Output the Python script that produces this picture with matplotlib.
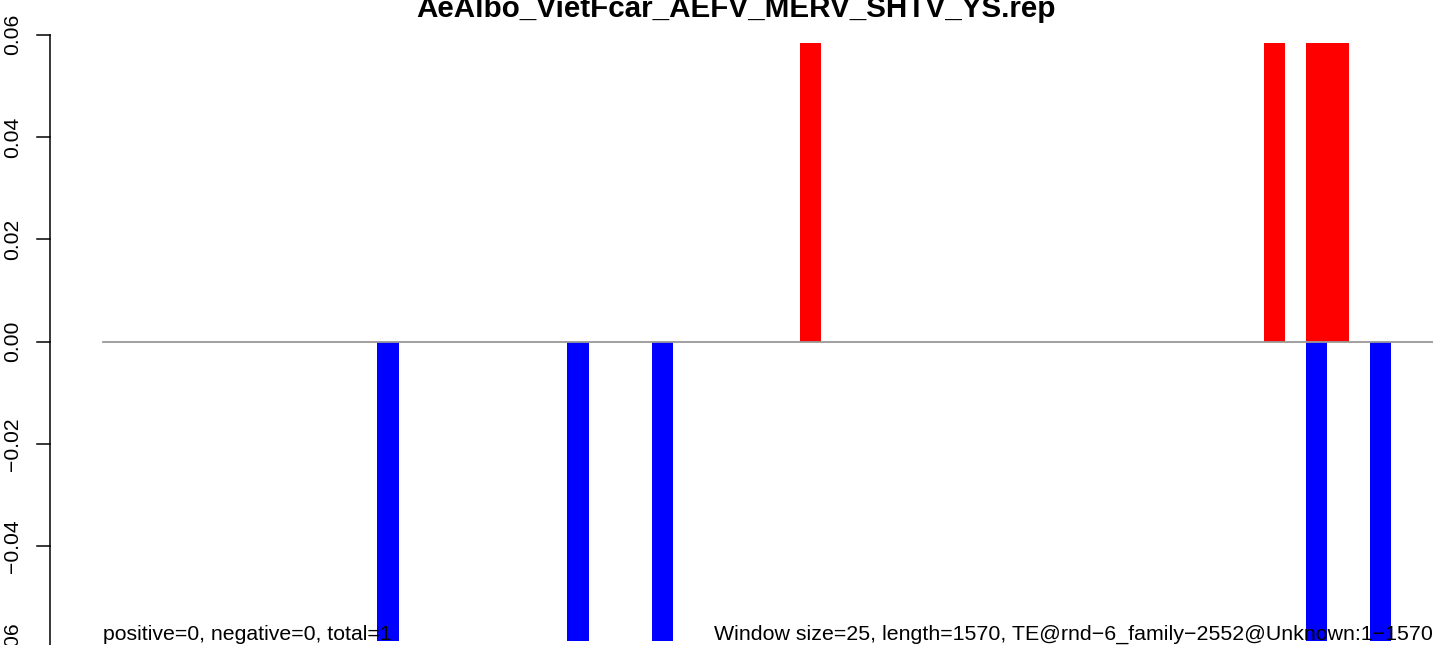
import matplotlib
matplotlib.use('Agg')
import matplotlib.pyplot as plt
import matplotlib.transforms as mtransforms

# === DATA ===
n_windows = 63
pos_windows = [33, 55, 57, 58]
pos_values = [0.0585, 0.0585, 0.0585, 0.0585]
neg_windows = [13, 22, 26, 57, 60]
neg_values = [-0.0585, -0.0585, -0.0585, -0.0585, -0.0585]
y_ticks = [-0.06, -0.04, -0.02, 0.0, 0.02, 0.04, 0.06]
y_tick_labels = ['\u22120.06', '\u22120.04', '\u22120.02', '0.00', '0.02', '0.04', '0.06']
title = 'AeAlbo_VietFcar_AEFV_MERV_SHTV_YS.rep'
left_note = 'positive=0, negative=0, total=1'
right_note = 'Window size=25, length=1570, TE@rnd\u22126_family\u22122552@Unknown:1\u22121570'

# === FIGURE ===
W, H = 1433, 645
plt.rcParams['font.family'] = ['Liberation Sans', 'DejaVu Sans']
fig = plt.figure(figsize=(W / 100, H / 100), dpi=100)

ax = fig.add_axes([50 / W, (H - 641) / H, (W - 50) / W, 598 / H])
ax.set_xlim(-2.51, 63.0)
ax.set_ylim(-0.05846, 0.05834)
ax.axis('off')

ax.bar(neg_windows, neg_values, width=1, align='edge', color='#0000FF', lw=0)
ax.bar(pos_windows, pos_values, width=1, align='edge', color='#FF0000', lw=0)
ax.plot([0, n_windows], [0, 0], color='#999999', lw=1.3, zorder=3)

# y axis drawn by hand, R style
trans = mtransforms.blended_transform_factory(fig.transFigure, ax.transData)
ax.plot([50 / W, 50 / W], [-0.065, 0.06], color='black', lw=1.1,
        transform=trans, clip_on=False)
for v, lab in zip(y_ticks, y_tick_labels):
    ax.plot([37 / W, 50 / W], [v, v], color='black', lw=1.1,
            transform=trans, clip_on=False)
    ax.text(22 / W, v, lab, rotation=90, ha='right', va='center',
            fontsize=15.2, transform=trans, clip_on=False)

fig.text(736.5 / W, 1 - 17 / H, title, ha='center', va='baseline',
         fontsize=21.3, fontweight='bold')
fig.text(103 / W, 1 - 640 / H, left_note, ha='left', va='baseline', fontsize=15.3, zorder=5)
fig.text(1433 / W, 1 - 640 / H, right_note, ha='right', va='baseline', fontsize=15.4, zorder=5)

fig.savefig('out.png', dpi=100)
